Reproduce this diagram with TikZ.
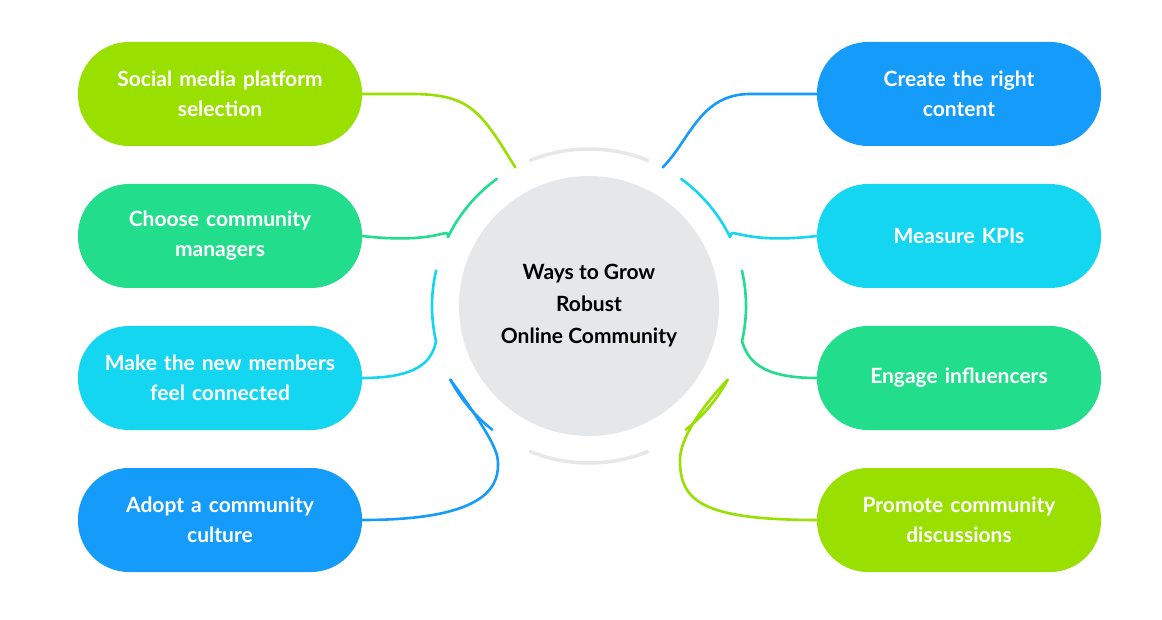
\documentclass[tikz,border=0pt]{standalone}
\usepackage{fontspec}
\setmainfont{Lato}
\definecolor{lime}{HTML}{99DF00}
\definecolor{grn}{HTML}{22DD8C}
\definecolor{cyn}{HTML}{14D6F0}
\definecolor{blu}{HTML}{159CFA}
\definecolor{ring}{HTML}{E6E7E9}
\begin{document}
\begin{tikzpicture}[x=1pt,y=-1pt,
  pill/.style={rounded corners=51pt,minimum width=284pt,minimum height=104pt,text=white,font=\fontsize{21}{30}\selectfont\bfseries,align=center,text width=270pt},
  con/.style={line width=2.6pt,line cap=round}]
\useasboundingbox (0,0) rectangle (1162,620);
\fill[white] (0,0) rectangle (1162,620);
\node[circle,fill=ring,minimum size=260pt,font=\fontsize{21}{32}\selectfont\bfseries,align=center] (c) at (589,306) {Ways to Grow\\Robust\\Online Community};
% pills
\node[pill,fill=lime] (l1) at (220,94) {Social media platform\\selection};
\node[pill,fill=grn] (l2) at (220,236) {Choose community\\managers};
\node[pill,fill=cyn] (l3) at (220,378) {Make the new members\\feel connected};
\node[pill,fill=blu] (l4) at (220,520) {Adopt a community\\culture};
\node[pill,fill=blu] (r1) at (959,94) {Create the right\\content};
\node[pill,fill=cyn] (r2) at (959,236) {Measure KPIs};
\node[pill,fill=grn] (r3) at (959,378) {Engage influencers};
\node[pill,fill=lime] (r4) at (959,520) {Promote community\\discussions};
% ring arcs (radius 157, y downward so angles mirrored)
\def\R{157}
\draw[con,ring,line width=3.5pt] ([shift={(-68:\R)}]c.center) arc[start angle=-68,end angle=-112,radius=\R];
\draw[con,ring,line width=3.5pt] ([shift={(68:\R)}]c.center) arc[start angle=68,end angle=112,radius=\R];
\draw[con,grn] ([shift={(-126:\R)}]c.center) arc[start angle=-126,end angle=-154,radius=\R] coordinate (g1);
\draw[con,cyn] ([shift={(-167:\R)}]c.center) coordinate (cy1) arc[start angle=-167,end angle=-193,radius=\R] coordinate (cy2);
\draw[con,blu] ([shift={(152:\R)}]c.center) coordinate (b1) arc[start angle=152,end angle=128,radius=\R];
\draw[con,cyn] ([shift={(-54:\R)}]c.center) arc[start angle=-54,end angle=-26,radius=\R] coordinate (rc1);
\draw[con,grn] ([shift={(-13:\R)}]c.center) arc[start angle=-13,end angle=13,radius=\R] coordinate (rg1);
\draw[con,lime] ([shift={(28:\R)}]c.center) coordinate (rl1) arc[start angle=28,end angle=52,radius=\R];
\coordinate (lt) at ([shift={(-118:\R)}]c.center);
\coordinate (rt) at ([shift={(-62:\R)}]c.center);
% connectors
\draw[con,lime] (l1.east) -- (410,94) .. controls (470,94) and (480,110) .. (lt);
\draw[con,grn] (g1) .. controls (450,225) and (440,245) .. (l2.east);
\draw[con,cyn] (cy2) .. controls (432,360) and (420,378) .. (l3.east);
\draw[con,blu] (b1) .. controls (498,445) and (498,455) .. (498,465) .. controls (498,490) and (480,520) .. (l4.east);
\draw[con,blu] (r1.west) -- (750,94) .. controls (700,94) and (690,140) .. (rt);
\draw[con,cyn] (rc1) .. controls (730,225) and (740,245) .. (r2.west);
\draw[con,grn] (rg1) .. controls (748,360) and (760,378) .. (r3.west);
\draw[con,lime] (rl1) .. controls (690,420) and (680,445) .. (680,460) .. controls (680,500) and (700,520) .. (r4.west);
\end{tikzpicture}
\end{document}
